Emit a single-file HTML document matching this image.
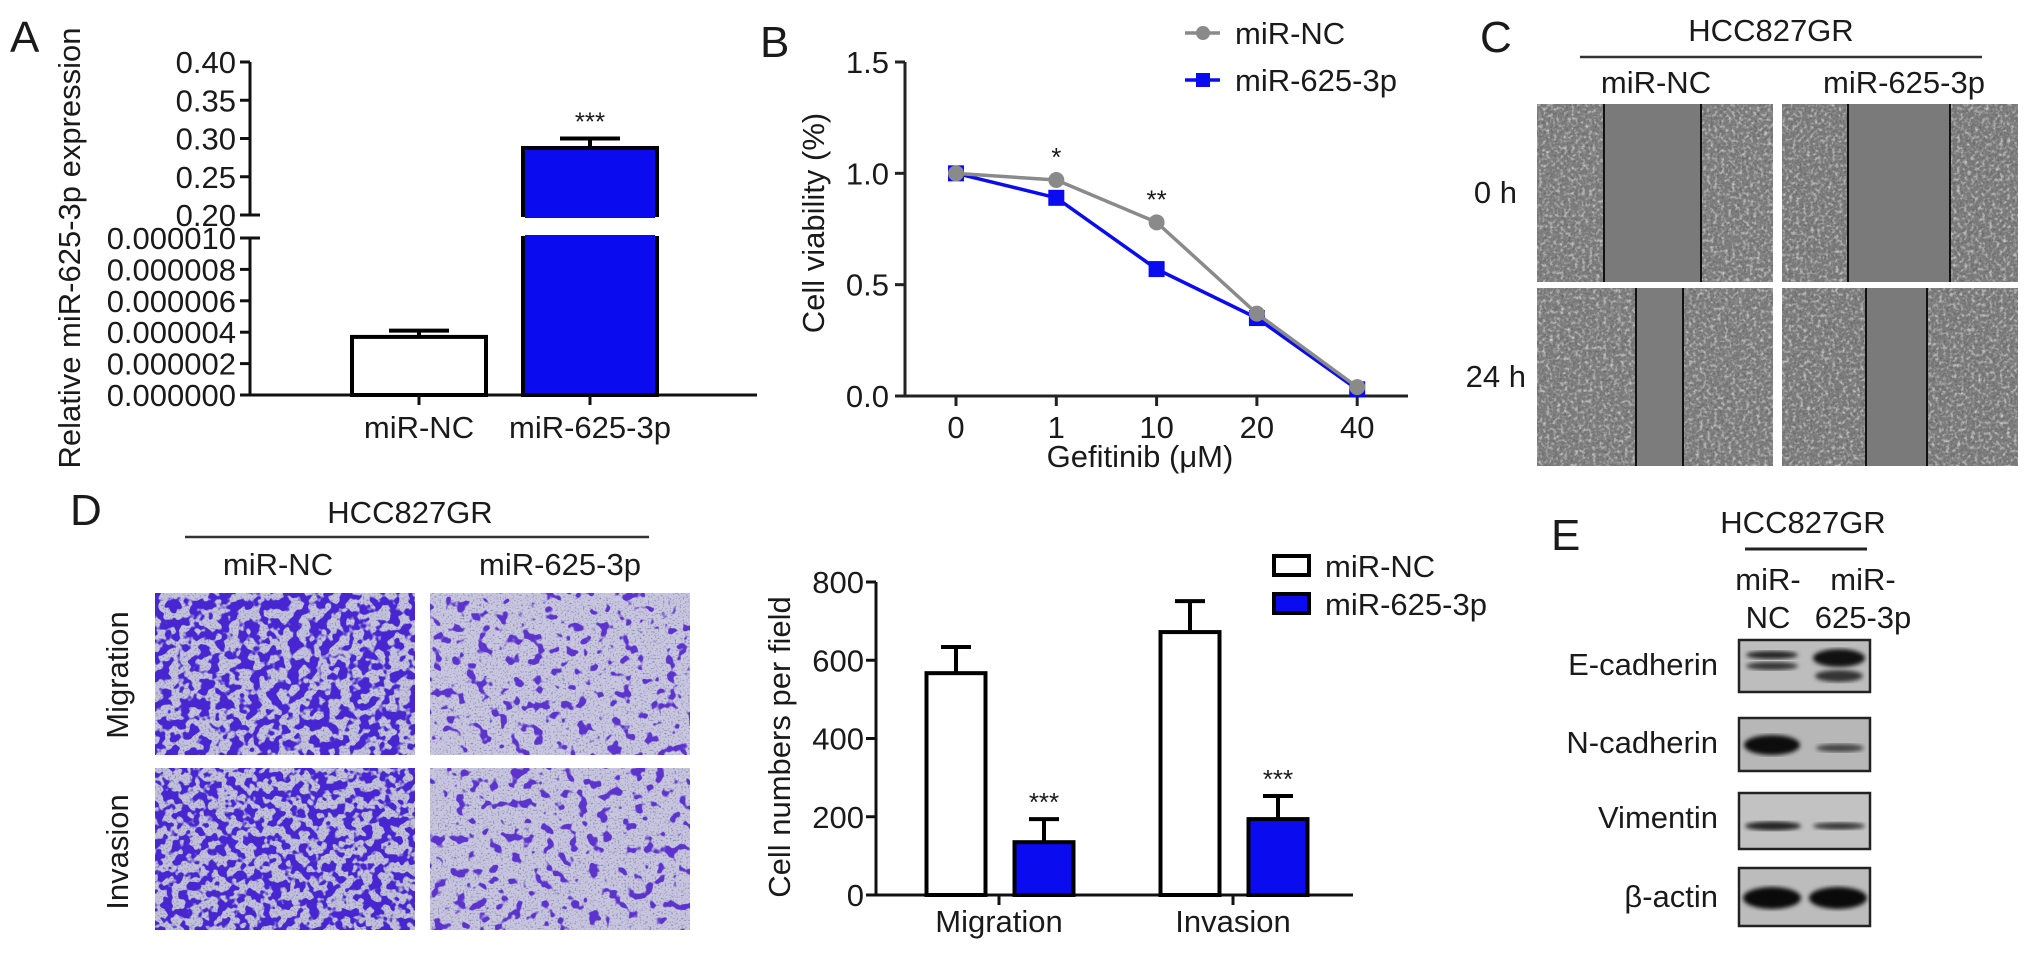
<!DOCTYPE html>
<html><head><meta charset="utf-8">
<style>
html,body{margin:0;padding:0;background:#fff;}
svg{display:block;}
text{font-family:"Liberation Sans",Arial,sans-serif;fill:#1a1a1a;}
filter{color-interpolation-filters:sRGB;}
</style></head>
<body>
<svg id="fig" width="2032" height="960" viewBox="0 0 2032 960" xmlns="http://www.w3.org/2000/svg">
<defs>
  <filter id="speck" x="0" y="0" width="1" height="1" color-interpolation-filters="sRGB">
    <feTurbulence type="fractalNoise" baseFrequency="0.28" numOctaves="2" seed="4"/>
    <feColorMatrix type="matrix" values="0 0 0 0 0.85  0 0 0 0 0.85  0 0 0 0 0.85  2.2 0 0 0 -1.05"/>
  </filter>
  <filter id="speckDark" x="0" y="0" width="1" height="1" color-interpolation-filters="sRGB">
    <feTurbulence type="fractalNoise" baseFrequency="0.45" numOctaves="1" seed="9"/>
    <feColorMatrix type="matrix" values="0 0 0 0 0.35  0 0 0 0 0.35  0 0 0 0 0.35  2 0 0 0 -0.95"/>
  </filter>
  <filter id="cvDense" x="0" y="0" width="1" height="1" color-interpolation-filters="sRGB">
    <feTurbulence type="fractalNoise" baseFrequency="0.1" numOctaves="2" seed="2"/>
    <feColorMatrix type="matrix" values="0 0 0 0 0.28  0 0 0 0 0.15  0 0 0 0 0.82  14 0 0 0 -6.6"/>
  </filter>
  <filter id="cvDense2" x="0" y="0" width="1" height="1" color-interpolation-filters="sRGB">
    <feTurbulence type="fractalNoise" baseFrequency="0.11" numOctaves="2" seed="7"/>
    <feColorMatrix type="matrix" values="0 0 0 0 0.28  0 0 0 0 0.15  0 0 0 0 0.82  14 0 0 0 -6.7"/>
  </filter>
  <filter id="cvSparse" x="0" y="0" width="1" height="1" color-interpolation-filters="sRGB">
    <feTurbulence type="fractalNoise" baseFrequency="0.09" numOctaves="2" seed="5"/>
    <feColorMatrix type="matrix" values="0 0 0 0 0.36  0 0 0 0 0.2  0 0 0 0 0.8  14 0 0 0 -8.2"/>
  </filter>
  <filter id="cvDots" x="0" y="0" width="1" height="1" color-interpolation-filters="sRGB">
    <feTurbulence type="fractalNoise" baseFrequency="0.6" numOctaves="1" seed="11"/>
    <feColorMatrix type="matrix" values="0 0 0 0 0.45  0 0 0 0 0.43  0 0 0 0 0.62  3 0 0 0 -1.6"/>
  </filter>
  <filter id="blur2"><feGaussianBlur stdDeviation="2"/></filter>
</defs>

<!-- Panel letters -->
<text x="10" y="52" font-size="44">A</text>
<text x="760" y="57" font-size="44">B</text>
<text x="1480" y="52" font-size="44">C</text>
<text x="70" y="525" font-size="44">D</text>
<text x="1551" y="550" font-size="44">E</text>

<g id="chartA"></g>
<g id="chartB"></g>
<g id="chartD"></g>

<!-- Panel C: wound healing -->
<g>
  <text x="1771" y="41" font-size="31" text-anchor="middle">HCC827GR</text>
  <line x1="1580" y1="57" x2="1982" y2="57" stroke="#333" stroke-width="2.5"/>
  <text x="1656" y="93" font-size="31" text-anchor="middle">miR-NC</text>
  <text x="1904" y="93" font-size="31" text-anchor="middle">miR-625-3p</text>
  <text x="1517" y="203" font-size="31" text-anchor="end">0 h</text>
  <text x="1526" y="387" font-size="31" text-anchor="end">24 h</text>
  <g>
    <rect x="1537" y="104" width="236" height="178" fill="#7e7e7e"/>
    <rect x="1537" y="104" width="236" height="178" filter="url(#speckDark)"/>
    <rect x="1537" y="104" width="236" height="178" filter="url(#speck)"/>
    <rect x="1605" y="104" width="96" height="178" fill="#7a7a7a"/>
    <line x1="1604" y1="104" x2="1604" y2="282" stroke="#111" stroke-width="2"/>
    <line x1="1701" y1="104" x2="1701" y2="282" stroke="#111" stroke-width="2"/>
  </g>
  <g>
    <rect x="1782" y="104" width="236" height="178" fill="#7c7c7c"/>
    <rect x="1782" y="104" width="236" height="178" filter="url(#speckDark)"/>
    <rect x="1782" y="104" width="236" height="178" filter="url(#speck)"/>
    <rect x="1849" y="104" width="100" height="178" fill="#7a7a7a"/>
    <line x1="1848" y1="104" x2="1848" y2="282" stroke="#111" stroke-width="2"/>
    <line x1="1950" y1="104" x2="1950" y2="282" stroke="#111" stroke-width="2"/>
  </g>
  <g>
    <rect x="1537" y="288" width="236" height="178" fill="#7e7e7e"/>
    <rect x="1537" y="288" width="236" height="178" filter="url(#speckDark)"/>
    <rect x="1537" y="288" width="236" height="178" filter="url(#speck)"/>
    <rect x="1637" y="288" width="46" height="178" fill="#7c7c7c"/>
    <line x1="1636" y1="288" x2="1636" y2="466" stroke="#111" stroke-width="2"/>
    <line x1="1683" y1="288" x2="1683" y2="466" stroke="#111" stroke-width="2"/>
  </g>
  <g>
    <rect x="1782" y="288" width="236" height="178" fill="#7c7c7c"/>
    <rect x="1782" y="288" width="236" height="178" filter="url(#speckDark)"/>
    <rect x="1782" y="288" width="236" height="178" filter="url(#speck)"/>
    <rect x="1867" y="288" width="60" height="178" fill="#7a7a7a"/>
    <line x1="1866" y1="288" x2="1866" y2="466" stroke="#111" stroke-width="2"/>
    <line x1="1927" y1="288" x2="1927" y2="466" stroke="#111" stroke-width="2"/>
  </g>
</g>

<!-- Panel D: transwell images -->
<g>
  <text x="410" y="523" font-size="31" text-anchor="middle">HCC827GR</text>
  <line x1="185" y1="537" x2="649" y2="537" stroke="#333" stroke-width="2.5"/>
  <text x="278" y="575" font-size="31" text-anchor="middle">miR-NC</text>
  <text x="560" y="575" font-size="31" text-anchor="middle">miR-625-3p</text>
  <text transform="translate(128,675) rotate(-90)" font-size="31" text-anchor="middle">Migration</text>
  <text transform="translate(128,852) rotate(-90)" font-size="31" text-anchor="middle">Invasion</text>
  <g>
    <rect x="155" y="593" width="260" height="162" fill="#c4c3dc"/>
    <rect x="155" y="593" width="260" height="162" filter="url(#cvDots)"/>
    <rect x="155" y="593" width="260" height="162" filter="url(#cvDense)"/>
  </g>
  <g>
    <rect x="430" y="593" width="260" height="162" fill="#c8c7df"/>
    <rect x="430" y="593" width="260" height="162" filter="url(#cvDots)"/>
    <rect x="430" y="593" width="260" height="162" filter="url(#cvSparse)"/>
  </g>
  <g>
    <rect x="155" y="768" width="260" height="162" fill="#c2c1da"/>
    <rect x="155" y="768" width="260" height="162" filter="url(#cvDots)"/>
    <rect x="155" y="768" width="260" height="162" filter="url(#cvDense2)"/>
  </g>
  <g>
    <rect x="430" y="768" width="260" height="162" fill="#c7c6de"/>
    <rect x="430" y="768" width="260" height="162" filter="url(#cvDots)"/>
    <rect x="430" y="768" width="260" height="162" filter="url(#cvSparse)"/>
  </g>
</g>

<!-- Panel E: western blot -->
<g>
  <text x="1803" y="533" font-size="31" text-anchor="middle">HCC827GR</text>
  <line x1="1745" y1="549" x2="1867" y2="549" stroke="#222" stroke-width="3"/>
  <text x="1768" y="590" font-size="31" text-anchor="middle">miR-</text>
  <text x="1768" y="628" font-size="31" text-anchor="middle">NC</text>
  <text x="1863" y="590" font-size="31" text-anchor="middle">miR-</text>
  <text x="1863" y="628" font-size="31" text-anchor="middle">625-3p</text>

  <text x="1718" y="675" font-size="31" text-anchor="end">E-cadherin</text>
  <g>
    <rect x="1739" y="640" width="131" height="52" fill="#bdbdbd" stroke="#222" stroke-width="2.5"/>
    <ellipse cx="1772" cy="655" rx="26" ry="4" fill="#222" filter="url(#blur2)"/>
    <ellipse cx="1772" cy="666" rx="26" ry="4" fill="#333" filter="url(#blur2)"/>
    <ellipse cx="1839" cy="658" rx="26" ry="9" fill="#111" filter="url(#blur2)"/>
    <ellipse cx="1839" cy="676" rx="24" ry="6" fill="#333" filter="url(#blur2)"/>
  </g>
  <text x="1718" y="753" font-size="31" text-anchor="end">N-cadherin</text>
  <g>
    <rect x="1739" y="718" width="131" height="53" fill="#b7b7b7" stroke="#222" stroke-width="2.5"/>
    <ellipse cx="1772" cy="745" rx="28" ry="10" fill="#0d0d0d" filter="url(#blur2)"/>
    <ellipse cx="1840" cy="748" rx="24" ry="4" fill="#444" filter="url(#blur2)"/>
  </g>
  <text x="1718" y="828" font-size="31" text-anchor="end">Vimentin</text>
  <g>
    <rect x="1739" y="793" width="131" height="56" fill="#c2c2c2" stroke="#222" stroke-width="2.5"/>
    <ellipse cx="1773" cy="826" rx="28" ry="4.5" fill="#222" filter="url(#blur2)"/>
    <ellipse cx="1839" cy="826" rx="26" ry="3.5" fill="#333" filter="url(#blur2)"/>
  </g>
  <text x="1718" y="907" font-size="31" text-anchor="end">β-actin</text>
  <g>
    <rect x="1739" y="868" width="131" height="58" fill="#bcbcbc" stroke="#222" stroke-width="2.5"/>
    <ellipse cx="1772" cy="898" rx="29" ry="11" fill="#0a0a0a" filter="url(#blur2)"/>
    <ellipse cx="1838" cy="898" rx="29" ry="11" fill="#0a0a0a" filter="url(#blur2)"/>
  </g>
</g>

<script>
// ---------- Panel A data ----------
const aCategories = ['miR-NC', 'miR-625-3p'];
const aValues = [0.0000037, 0.2876];
const aErrors = [0.0000004, 0.0124];
const aLowTicks = [0, 0.000002, 0.000004, 0.000006, 0.000008, 0.00001];
const aLowTickLabels = ['0.000000', '0.000002', '0.000004', '0.000006', '0.000008', '0.000010'];
const aHighTicks = [0.20, 0.25, 0.30, 0.35, 0.40];
const aHighTickLabels = ['0.20', '0.25', '0.30', '0.35', '0.40'];
const aStars = ['', '***'];

// ---------- Panel B data ----------
const bDoses = ['0', '1', '10', '20', '40'];
const bNC = [1.0, 0.97, 0.78, 0.37, 0.04];
const b625 = [1.0, 0.89, 0.57, 0.35, 0.03];
const bYTicks = [0, 0.5, 1.0, 1.5];
const bYTickLabels = ['0.0', '0.5', '1.0', '1.5'];
const bStars = ['', '*', '**', '', ''];

// ---------- Panel D data ----------
const dCategories = ['Migration', 'Invasion'];
const dNC = [567, 672];
const dNCErr = [67, 79];
const d625 = [135, 194];
const d625Err = [59, 59];
const dYTicks = [0, 200, 400, 600, 800];
const dYTickLabels = ['0', '200', '400', '600', '800'];
const dStars = ['***', '***'];

const NS = 'http://www.w3.org/2000/svg';
function mk(parent, tag, attrs, txt) {
  const e = document.createElementNS(NS, tag);
  for (const k in attrs) e.setAttribute(k, attrs[k]);
  if (txt !== undefined) e.textContent = txt;
  parent.appendChild(e);
  return e;
}
const BLUE = '#0b0bf0';

// ================= Panel A =================
(function () {
  const g = document.getElementById('chartA');
  const axX = 250, base = 395, lowTop = 238, highBot = 215, highTop = 62;
  const yLow = v => base - (v / 0.00001) * (base - lowTop);
  const yHigh = v => highBot - ((v - 0.2) / 0.2) * (highBot - highTop);
  const xCenter = i => 419 + i * 171;
  const bw = 134;

  let e = mk(g, 'line', {x1: axX, y1: highTop, x2: axX, y2: highBot, stroke: '#111', 'stroke-width': 3});
  
  
  e = mk(g, 'line', {x1: axX, y1: lowTop, x2: axX, y2: base, stroke: '#111', 'stroke-width': 3});
  
  
  e = mk(g, 'line', {x1: axX, y1: base, x2: 757, y2: base, stroke: '#111', 'stroke-width': 3});
  
  

  aLowTicks.forEach((v, i) => {
    const y = yLow(v);
    const ext = (i === aLowTicks.length - 1) ? 10 : 0;
    mk(g, 'line', {x1: axX - 10, y1: y, x2: axX + ext, y2: y, stroke: '#111', 'stroke-width': 3});
    const t = mk(g, 'text', {x: axX - 14, y: y + 11, 'font-size': 31, 'text-anchor': 'end'}, aLowTickLabels[i]);
    
    
  });
  aHighTicks.forEach((v, i) => {
    const y = yHigh(v);
    const ext = (i === 0) ? 10 : 0;
    mk(g, 'line', {x1: axX - 10, y1: y, x2: axX + ext, y2: y, stroke: '#111', 'stroke-width': 3});
    const t = mk(g, 'text', {x: axX - 14, y: y + 11, 'font-size': 31, 'text-anchor': 'end'}, aHighTickLabels[i]);
    
    
  });

  aValues.forEach((v, i) => {
    const cx = xCenter(i), x = cx - bw / 2;
    const fill = i === 0 ? '#fff' : BLUE;
    if (v <= 0.00001) {
      const y = yLow(v);
      const r = mk(g, 'rect', {x: x, y: y, width: bw, height: base - y, fill: fill, stroke: '#000', 'stroke-width': 4});
      
      
      const ey = yLow(v + aErrors[i]);
      mk(g, 'line', {x1: cx, y1: y, x2: cx, y2: ey, stroke: '#000', 'stroke-width': 4});
      mk(g, 'line', {x1: cx - 30, y1: ey, x2: cx + 30, y2: ey, stroke: '#000', 'stroke-width': 4});
    } else {
      const r1 = mk(g, 'rect', {x: x, y: lowTop, width: bw, height: base - lowTop, fill: fill, stroke: '#000', 'stroke-width': 4});
      
      
      const y = yHigh(v);
      const r2 = mk(g, 'rect', {x: x, y: y, width: bw, height: highBot - y, fill: fill, stroke: '#000', 'stroke-width': 4});
      
      
      mk(g, 'rect', {x: x + 2, y: highBot - 3, width: bw - 4, height: 6, fill: fill});
      mk(g, 'rect', {x: x + 2, y: lowTop - 3, width: bw - 4, height: 6, fill: fill});
      const ey = yHigh(v + aErrors[i]);
      mk(g, 'line', {x1: cx, y1: y, x2: cx, y2: ey, stroke: '#000', 'stroke-width': 4});
      mk(g, 'line', {x1: cx - 30, y1: ey, x2: cx + 30, y2: ey, stroke: '#000', 'stroke-width': 4});
      if (aStars[i]) {
        const s = mk(g, 'text', {x: cx, y: ey - 8, 'font-size': 26, 'text-anchor': 'middle'}, aStars[i]);
        
        
      }
    }
    mk(g, 'line', {x1: cx, y1: base, x2: cx, y2: base + 10, stroke: '#111', 'stroke-width': 3});
    const t = mk(g, 'text', {x: cx, y: base + 43, 'font-size': 31, 'text-anchor': 'middle'}, aCategories[i]);
    
    
  });
  const ttl = mk(g, 'text', {transform: 'translate(80,248) rotate(-90)', 'font-size': 31, 'text-anchor': 'middle'}, 'Relative miR-625-3p expression');
  
  
})();

// ================= Panel B =================
(function () {
  const g = document.getElementById('chartB');
  const axX = 905, base = 396, top = 62;
  const yB = v => base - (v / 1.5) * (base - top);
  const xB = i => 956 + i * 100.3;

  let e = mk(g, 'line', {x1: axX, y1: top, x2: axX, y2: base, stroke: '#222', 'stroke-width': 3});
  
  
  e = mk(g, 'line', {x1: axX, y1: base, x2: 1408, y2: base, stroke: '#222', 'stroke-width': 3});
  
  

  bYTicks.forEach((v, i) => {
    const y = yB(v);
    mk(g, 'line', {x1: axX - 10, y1: y, x2: axX, y2: y, stroke: '#222', 'stroke-width': 3});
    const t = mk(g, 'text', {x: axX - 16, y: y + 11, 'font-size': 31, 'text-anchor': 'end'}, bYTickLabels[i]);
    
    
  });
  bDoses.forEach((d, i) => {
    const x = xB(i);
    mk(g, 'line', {x1: x, y1: base, x2: x, y2: base + 10, stroke: '#222', 'stroke-width': 3});
    const t = mk(g, 'text', {x: x, y: base + 42, 'font-size': 31, 'text-anchor': 'middle'}, d);
    
    
  });

  const p625 = b625.map((v, i) => xB(i) + ',' + yB(v)).join(' ');
  const pNC = bNC.map((v, i) => xB(i) + ',' + yB(v)).join(' ');
  e = mk(g, 'polyline', {points: p625, fill: 'none', stroke: BLUE, 'stroke-width': 3.5});
  
  
  b625.forEach((v, i) => {
    const m = mk(g, 'rect', {x: xB(i) - 8, y: yB(v) - 8, width: 16, height: 16, fill: BLUE});
    
    
  });
  e = mk(g, 'polyline', {points: pNC, fill: 'none', stroke: '#8a8a8a', 'stroke-width': 3.5});
  
  
  bNC.forEach((v, i) => {
    const m = mk(g, 'circle', {cx: xB(i), cy: yB(v), r: 8, fill: '#8a8a8a'});
    
    
    if (bStars[i]) {
      const s = mk(g, 'text', {x: xB(i), y: yB(v) - 14, 'font-size': 26, 'text-anchor': 'middle'}, bStars[i]);
      
      
    }
  });

  const t1 = mk(g, 'text', {x: 1140, y: 467, 'font-size': 31, 'text-anchor': 'middle'}, 'Gefitinib (μM)');
  
  
  const t2 = mk(g, 'text', {transform: 'translate(824,223) rotate(-90)', 'font-size': 31, 'text-anchor': 'middle'}, 'Cell viability (%)');
  
  

  const lg = mk(g, 'g', {});
  
  
  mk(lg, 'line', {x1: 1185, y1: 33, x2: 1220, y2: 33, stroke: '#8a8a8a', 'stroke-width': 3.5});
  mk(lg, 'circle', {cx: 1203, cy: 33, r: 7, fill: '#8a8a8a'});
  const l1 = mk(lg, 'text', {x: 1235, y: 44, 'font-size': 31}, 'miR-NC');
  
  
  mk(lg, 'line', {x1: 1185, y1: 80, x2: 1220, y2: 80, stroke: BLUE, 'stroke-width': 3.5});
  mk(lg, 'rect', {x: 1196, y: 73, width: 14, height: 14, fill: BLUE});
  const l2 = mk(lg, 'text', {x: 1235, y: 91, 'font-size': 31}, 'miR-625-3p');
  
  
})();

// ================= Panel D =================
(function () {
  const g = document.getElementById('chartD');
  const axX = 876, base = 895, top = 582;
  const yD = v => base - (v / 800) * (base - top);
  const xGroup = i => 999 + i * 234;
  const bw = 59;

  let e = mk(g, 'line', {x1: axX, y1: top, x2: axX, y2: base, stroke: '#111', 'stroke-width': 3});
  
  
  e = mk(g, 'line', {x1: axX, y1: base, x2: 1353, y2: base, stroke: '#111', 'stroke-width': 3});
  
  

  dYTicks.forEach((v, i) => {
    const y = yD(v);
    mk(g, 'line', {x1: axX - 10, y1: y, x2: axX, y2: y, stroke: '#111', 'stroke-width': 3});
    const t = mk(g, 'text', {x: axX - 12, y: y + 11, 'font-size': 31, 'text-anchor': 'end'}, dYTickLabels[i]);
    
    
  });

  function bar(cx, v, err, fill, name, star) {
    const y = yD(v);
    const r = mk(g, 'rect', {x: cx - bw / 2, y: y, width: bw, height: base - y, fill: fill, stroke: '#000', 'stroke-width': 4});
    
    
    const ey = yD(v + err);
    mk(g, 'line', {x1: cx, y1: y, x2: cx, y2: ey, stroke: '#000', 'stroke-width': 4});
    mk(g, 'line', {x1: cx - 15, y1: ey, x2: cx + 15, y2: ey, stroke: '#000', 'stroke-width': 4});
    if (star) {
      const s = mk(g, 'text', {x: cx, y: ey - 8, 'font-size': 26, 'text-anchor': 'middle'}, star);
      
      
    }
  }
  dCategories.forEach((c, i) => {
    const gx = xGroup(i);
    bar(gx - 43, dNC[i], dNCErr[i], '#fff', 'd-bar-' + c.toLowerCase() + '-mir-nc', '');
    bar(gx + 45, d625[i], d625Err[i], BLUE, 'd-bar-' + c.toLowerCase() + '-mir-625', dStars[i]);
    mk(g, 'line', {x1: gx, y1: base, x2: gx, y2: base + 10, stroke: '#111', 'stroke-width': 3});
    const t = mk(g, 'text', {x: gx, y: base + 37, 'font-size': 31, 'text-anchor': 'middle'}, c);
    
    
  });
  const ttl = mk(g, 'text', {transform: 'translate(790,747) rotate(-90)', 'font-size': 31, 'text-anchor': 'middle'}, 'Cell numbers per field');
  
  

  const lg = mk(g, 'g', {});
  
  
  mk(lg, 'rect', {x: 1274, y: 556, width: 35, height: 19, fill: '#fff', stroke: '#000', 'stroke-width': 4});
  const l1 = mk(lg, 'text', {x: 1325, y: 577, 'font-size': 31}, 'miR-NC');
  
  
  mk(lg, 'rect', {x: 1274, y: 594, width: 35, height: 19, fill: BLUE, stroke: '#000', 'stroke-width': 4});
  const l2 = mk(lg, 'text', {x: 1325, y: 615, 'font-size': 31}, 'miR-625-3p');
  
  
})();
</script>
</svg>
</body></html>
